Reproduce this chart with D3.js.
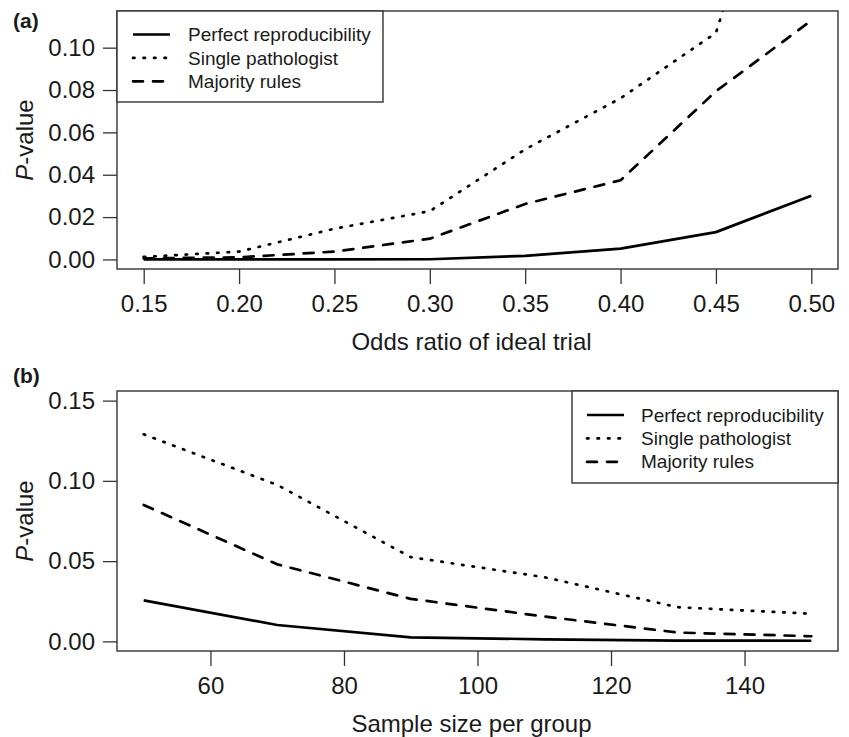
<!DOCTYPE html>
<html>
<head>
<meta charset="utf-8">
<script src="https://cdn.jsdelivr.net/npm/d3@7"></script>
<style>
  body { margin: 0; background: #fff; }
  text { font-family: "Liberation Sans", Arial, sans-serif; fill: #1a1a1a; }
</style>
</head>
<body>
<div id="chart"></div>
<script>
// panel (a): P-value vs odds ratio of ideal trial
const oddsRatio  = [0.15, 0.20, 0.25, 0.30, 0.35, 0.40, 0.45, 0.50];
const perfectA   = [0.0000, 0.0000, 0.0000, 0.0001, 0.0017, 0.0051, 0.0129, 0.0301];
const singleA    = [0.0012, 0.0037, 0.0145, 0.0228, 0.0520, 0.0761, 0.1070, 0.2500];
const majorityA  = [0.0005, 0.0010, 0.0037, 0.0098, 0.0262, 0.0374, 0.0794, 0.1128];
const xTicksA    = [0.15, 0.20, 0.25, 0.30, 0.35, 0.40, 0.45, 0.50];
const yTicksA    = [0.00, 0.02, 0.04, 0.06, 0.08, 0.10];

// panel (b): P-value vs sample size per group
const sampleSize = [50, 70, 90, 110, 130, 150];
const perfectB   = [0.0255, 0.0102, 0.0025, 0.0013, 0.0005, 0.0004];
const singleB    = [0.1290, 0.0975, 0.0525, 0.0400, 0.0213, 0.0172];
const majorityB  = [0.0850, 0.0480, 0.0265, 0.0155, 0.0055, 0.0032];
const xTicksB    = [60, 80, 100, 120, 140];
const yTicksB    = [0.00, 0.05, 0.10, 0.15];

const seriesNames = ["Perfect reproducibility", "Single pathologist", "Majority rules"];

var W = 849, H = 737;
var lineW = 2.7;
var dashes = [null, "1.5,9", "10,10"];

var svg = d3.select("#chart")
  .append("svg")
    .attr("width", W)
    .attr("height", H);

// R style axis range: data range stretched by 4% each side
function rrange(lo, hi) {
  var d = (hi - lo) * 0.04;
  return [lo - d, hi + d];
}

function panel(o) {
  var g = svg.append("g");
  var x = d3.scaleLinear().domain(rrange(d3.min(o.xs), d3.max(o.xs))).range([o.left, o.right]);
  var y = d3.scaleLinear().domain(rrange(0, o.ymax)).range([o.bottom, o.top]);

  var clipId = "clip" + o.id;
  svg.append("clipPath").attr("id", clipId)
    .append("rect")
      .attr("x", o.left).attr("y", o.top)
      .attr("width", o.right - o.left).attr("height", o.bottom - o.top);

  // axes
  var ax = g.append("g")
    .attr("transform", "translate(0," + o.bottom + ")")
    .call(d3.axisBottom(x).tickValues(o.xTicks).tickFormat(o.xFmt)
      .tickSize(15).tickSizeOuter(0).tickPadding(11));
  var ay = g.append("g")
    .attr("transform", "translate(" + o.left + ",0)")
    .call(d3.axisLeft(y).tickValues(o.yTicks).tickFormat(d3.format(".2f"))
      .tickSize(14).tickSizeOuter(0).tickPadding(8));
  [ax, ay].forEach(function(a) {
    a.select(".domain").remove();
    a.selectAll("line").attr("stroke", "#333").attr("stroke-width", 1.3);
    a.selectAll("text").style("font-size", "24px").attr("fill", "#1a1a1a");
  });

  // lines
  var line = d3.line().x(function(d) { return x(d[0]); }).y(function(d) { return y(d[1]); });
  o.series.forEach(function(s, i) {
    g.append("path")
      .datum(o.xs.map(function(v, j) { return [v, s[j]]; }))
      .attr("clip-path", "url(#" + clipId + ")")
      .attr("d", line)
      .attr("fill", "none")
      .attr("stroke", "#000")
      .attr("stroke-width", lineW)
      .attr("stroke-linecap", dashes[i] ? "round" : "butt")
      .attr("stroke-linejoin", "round")
      .attr("stroke-dasharray", dashes[i]);
  });

  // frame
  g.append("rect")
    .attr("x", o.left).attr("y", o.top)
    .attr("width", o.right - o.left).attr("height", o.bottom - o.top)
    .attr("fill", "none").attr("stroke", "#333").attr("stroke-width", 1.4);

  // titles
  var cx = (o.left + o.right) / 2 - 6;
  g.append("text")
    .attr("x", cx).attr("y", o.xTitleY)
    .attr("text-anchor", "middle")
    .style("font-size", "24px")
    .text(o.xTitle);
  var yl = g.append("text")
    .attr("transform", "translate(33," + ((o.top + o.bottom) / 2) + ") rotate(-90)")
    .attr("text-anchor", "middle")
    .style("font-size", "24px");
  yl.append("tspan").style("font-style", "italic").text("P");
  yl.append("tspan").text("-value");
  g.append("text")
    .attr("x", 13).attr("y", o.labelY)
    .style("font-size", "21px").style("font-weight", "bold")
    .text(o.tag);

  // legend
  var lg = o.legend;
  g.append("rect")
    .attr("x", lg.x0).attr("y", lg.y0)
    .attr("width", lg.x1 - lg.x0).attr("height", lg.y1 - lg.y0)
    .attr("fill", "#fff").attr("stroke", "#333").attr("stroke-width", 1.4);
  seriesNames.forEach(function(name, i) {
    var ry = lg.rowY + i * 23.4;
    g.append("line")
      .attr("x1", lg.lineX).attr("x2", lg.lineX + 37)
      .attr("y1", ry).attr("y2", ry)
      .attr("stroke", "#000").attr("stroke-width", lineW)
      .attr("stroke-linecap", dashes[i] ? "round" : "butt")
      .attr("stroke-dasharray", dashes[i]);
    g.append("text")
      .attr("x", lg.textX).attr("y", ry)
      .attr("dy", "0.35em")
      .style("font-size", "19px")
      .text(name);
  });
}

panel({
  id: "a", tag: "(a)",
  left: 117, right: 838, top: 11, bottom: 269,
  xs: oddsRatio,
  series: [perfectA, singleA, majorityA],
  ymax: d3.max(majorityA),
  xTicks: xTicksA, yTicks: yTicksA,
  xFmt: d3.format(".2f"),
  xTitle: "Odds ratio of ideal trial", xTitleY: 350,
  labelY: 28,
  legend: { x0: 117, x1: 383, y0: 11, y1: 102, lineX: 133, textX: 188, rowY: 34.5 }
});

panel({
  id: "b", tag: "(b)",
  left: 117, right: 838, top: 391, bottom: 651,
  xs: sampleSize,
  series: [perfectB, singleB, majorityB],
  ymax: 0.15,
  xTicks: xTicksB, yTicks: yTicksB,
  xFmt: d3.format("d"),
  xTitle: "Sample size per group", xTitleY: 732,
  labelY: 383,
  legend: { x0: 572, x1: 838, y0: 391, y1: 483, lineX: 587, textX: 641, rowY: 415 }
});
</script>
</body>
</html>
